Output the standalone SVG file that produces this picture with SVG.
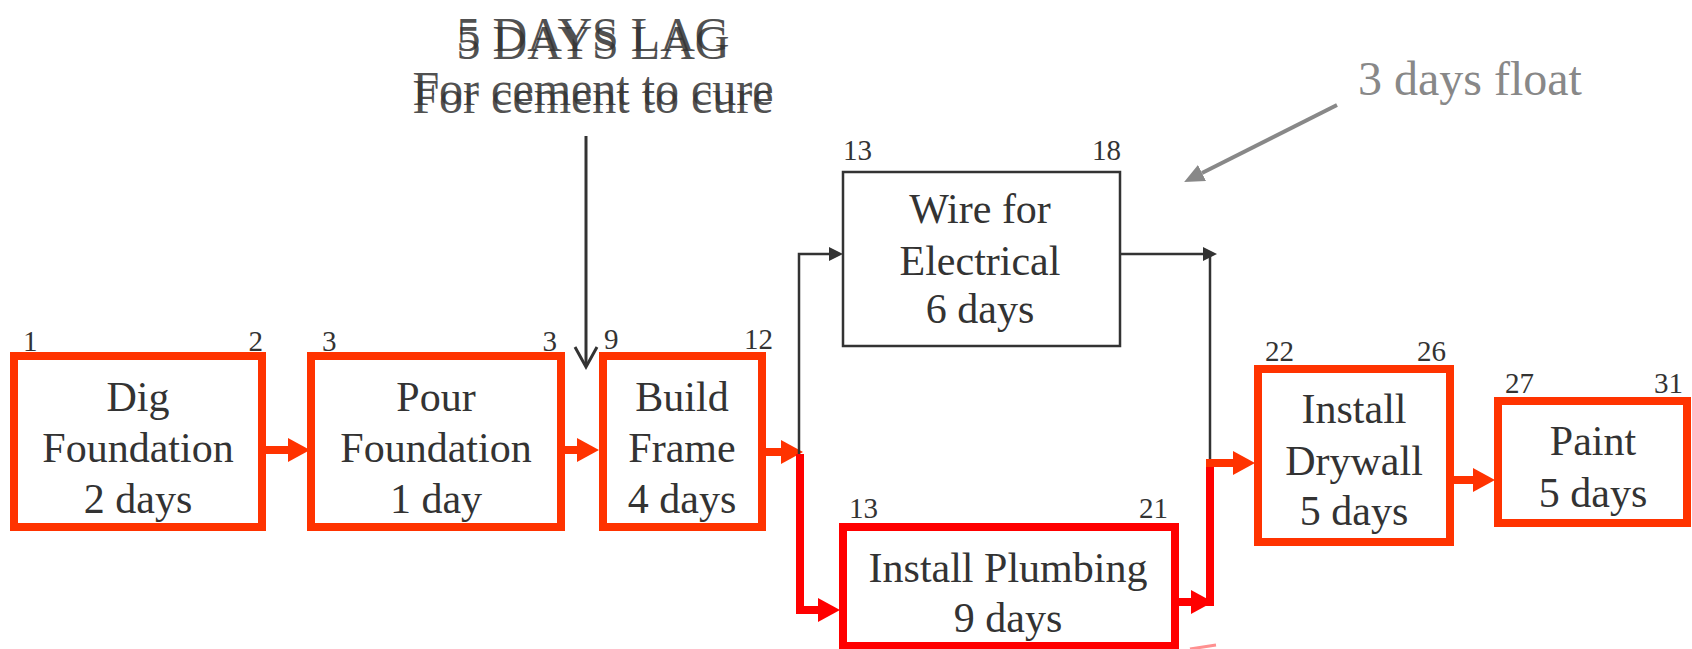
<svg xmlns="http://www.w3.org/2000/svg" width="1692" height="649" viewBox="0 0 1692 649">
<style>
text{font-family:"Liberation Serif","Times New Roman",serif;fill:#333}
.box{fill:#fff;stroke:#FF3300;stroke-width:8}
.boxr{fill:#fff;stroke:#FF0000;stroke-width:8}
.boxt{fill:#fff;stroke:#333;stroke-width:2.5}
.lbl{font-size:42px;text-anchor:middle}
.num{font-size:29px}
.end{text-anchor:end}
.ao{fill:none;stroke:#FF3300;stroke-width:8}
.ar{fill:none;stroke:#FF0000;stroke-width:8}
.ak{fill:none;stroke:#333;stroke-width:2.5}
.lag{font-size:48px;text-anchor:middle;fill:#333;opacity:0.85}
</style>
<defs>
<marker id="hO" markerUnits="userSpaceOnUse" markerWidth="22" markerHeight="24" refX="0" refY="12" orient="auto"><path d="M0,0 L22,12 L0,24 z" fill="#FF3300"/></marker>
<marker id="hR" markerUnits="userSpaceOnUse" markerWidth="22" markerHeight="24" refX="0" refY="12" orient="auto"><path d="M0,0 L22,12 L0,24 z" fill="#FF0000"/></marker>
<marker id="hK" markerUnits="userSpaceOnUse" markerWidth="14" markerHeight="14" refX="0" refY="7" orient="auto"><path d="M0,0 L14,7 L0,14 z" fill="#333"/></marker>
<marker id="hG" markerUnits="userSpaceOnUse" markerWidth="20" markerHeight="18" refX="0" refY="9" orient="auto"><path d="M0,0 L20,9 L0,18 z" fill="#888"/></marker>
</defs>

<g id="annotation-lag">
<text class="lag" x="593" y="51">5 DAYS LAG</text>
<text class="lag" x="593" y="59">5 DAYS LAG</text>
<text class="lag" x="593" y="105">For cement to cure</text>
<text class="lag" x="593" y="113">For cement to cure</text>
</g>

<g id="annotation-float">
<text x="1358" y="95" style="font-size:48px;fill:#888">3 days float</text>
</g>

<g id="connectors">
<line class="ao" x1="266" y1="450" x2="288" y2="450" marker-end="url(#hO)"/>
<line class="ao" x1="565" y1="450" x2="577" y2="450" marker-end="url(#hO)"/>
<line class="ao" x1="766" y1="452" x2="781" y2="452" marker-end="url(#hO)"/>
<polyline class="ak" points="799,457 799,254 829,254" marker-end="url(#hK)"/>
<polyline class="ar" points="800,454 800,610 818,610" marker-end="url(#hR)"/>
<line class="ak" x1="1120" y1="254" x2="1203" y2="254" marker-end="url(#hK)"/>
<line class="ak" x1="1210" y1="254" x2="1210" y2="463"/>
<line class="ar" x1="1179" y1="602" x2="1191" y2="602" marker-end="url(#hR)"/>
<line class="ar" x1="1210" y1="606" x2="1210" y2="467"/>
<line class="ao" x1="1206" y1="463" x2="1233" y2="463" marker-end="url(#hO)"/>
<line class="ao" x1="1453" y1="480" x2="1473" y2="480" marker-end="url(#hO)"/>
<polyline points="575,347 586,367 597,347" fill="none" stroke="#333" stroke-width="3"/>
<line x1="586" y1="136" x2="586" y2="366" stroke="#333" stroke-width="3"/>
<line x1="1337" y1="105" x2="1202" y2="173" stroke="#888" stroke-width="4" marker-end="url(#hG)"/>
<line x1="1190" y1="649" x2="1216" y2="645" stroke="#FF9090" stroke-width="3"/>
</g>

<g id="node-dig">
<rect class="box" x="14" y="356" width="248" height="171"/>
<text class="num" x="23" y="351">1</text>
<text class="num end" x="263" y="351">2</text>
<text class="lbl" x="138" y="411">Dig</text>
<text class="lbl" x="138" y="462">Foundation</text>
<text class="lbl" x="138" y="513">2 days</text>
</g>

<g id="node-pour">
<rect class="box" x="311" y="356" width="250" height="171"/>
<text class="num" x="322" y="351">3</text>
<text class="num end" x="557" y="351">3</text>
<text class="lbl" x="436" y="411">Pour</text>
<text class="lbl" x="436" y="462">Foundation</text>
<text class="lbl" x="436" y="513">1 day</text>
</g>

<g id="node-frame">
<rect class="box" x="603" y="356" width="159" height="171"/>
<text class="num" x="604" y="349">9</text>
<text class="num end" x="773" y="349">12</text>
<text class="lbl" x="682" y="411">Build</text>
<text class="lbl" x="682" y="462">Frame</text>
<text class="lbl" x="682" y="513">4 days</text>
</g>

<g id="node-wire">
<rect class="boxt" x="843" y="172" width="277" height="174"/>
<text class="num" x="843" y="160">13</text>
<text class="num end" x="1121" y="160">18</text>
<text class="lbl" x="980" y="223">Wire for</text>
<text class="lbl" x="980" y="275">Electrical</text>
<text class="lbl" x="980" y="323">6 days</text>
</g>

<g id="node-plumbing">
<rect class="boxr" x="843" y="527" width="332" height="119"/>
<text class="num" x="849" y="518">13</text>
<text class="num end" x="1168" y="518">21</text>
<text class="lbl" x="1008" y="582">Install Plumbing</text>
<text class="lbl" x="1008" y="632">9 days</text>
</g>

<g id="node-drywall">
<rect class="box" x="1258" y="369" width="192" height="173"/>
<text class="num" x="1265" y="361">22</text>
<text class="num end" x="1446" y="361">26</text>
<text class="lbl" x="1354" y="423">Install</text>
<text class="lbl" x="1354" y="475">Drywall</text>
<text class="lbl" x="1354" y="525">5 days</text>
</g>

<g id="node-paint">
<rect class="box" x="1498" y="401" width="189" height="122"/>
<text class="num" x="1505" y="393">27</text>
<text class="num end" x="1683" y="393">31</text>
<text class="lbl" x="1593" y="455">Paint</text>
<text class="lbl" x="1593" y="507">5 days</text>
</g>
</svg>
